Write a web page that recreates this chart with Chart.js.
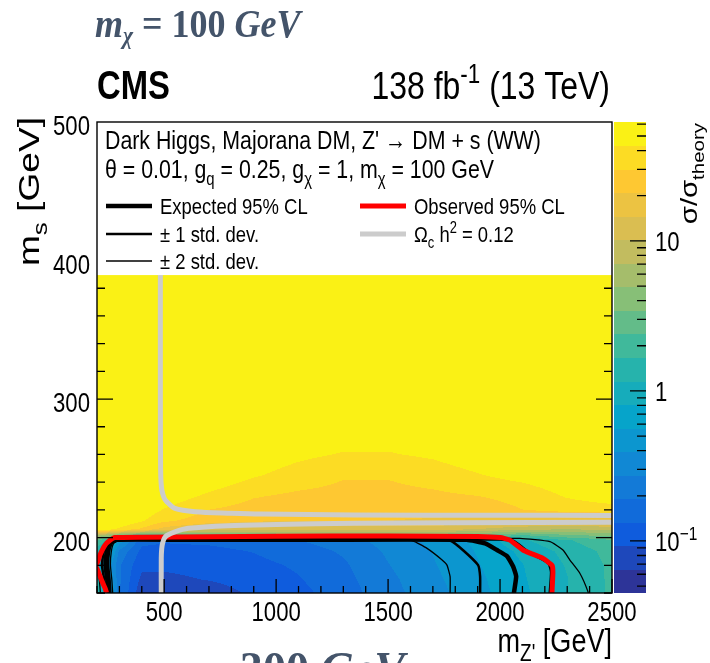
<!DOCTYPE html>
<html>
<head>
<meta charset="utf-8">
<script src="https://cdn.jsdelivr.net/npm/chart.js@4.4.1/dist/chart.umd.min.js"></script>
<style>
html, body { margin: 0; padding: 0; background: #fff; overflow: hidden; width: 710px; height: 663px; }
#wrap { position: relative; width: 710px; height: 663px; overflow: hidden; }
canvas { position: absolute; left: 0; top: 0; }
.slide { position: absolute; font-family: "Liberation Serif", serif; font-weight: bold; color: #44546A; white-space: nowrap; transform-origin: 0 0; }
.slide i { font-style: italic; }
.slide sub { font-size: 0.6em; vertical-align: -0.3em; }
</style>
</head>
<body>
<div id="wrap">
  <canvas id="c" width="710" height="663"></canvas>
  <div class="slide" style="left:95px;top:3px;font-size:36px;line-height:36px;transform:scale(1,1.12)"><i>m<sub>χ</sub></i> = 100 <i>GeV</i></div>
  <div class="slide" style="left:240px;top:646px;font-size:46px;line-height:46px">300 <i>GeV</i></div>
</div>
<script>
// grid of sigma/sigma_theory (rows = m_s, columns = m_Z')
const mzpGrid = [200, 250, 300, 400, 500, 700, 900, 1100, 1300, 1500, 1700, 1900, 2100, 2300, 2500];
const msGrid = [160, 170, 180, 190, 198, 202, 206, 212, 220, 230, 245, 260, 280, 320, 390];
const sigmaGrid = [
  [1.6, 0.8, 0.2, 0.07, 0.07, 0.075, 0.1, 0.12, 0.16, 0.24, 0.34, 0.5, 0.75, 1.15, 1.8],
  [1.2, 0.7, 0.2, 0.085, 0.085, 0.095, 0.11, 0.13, 0.17, 0.25, 0.36, 0.52, 0.78, 1.15, 1.8],
  [0.9, 0.5, 0.2, 0.1, 0.1, 0.105, 0.12, 0.14, 0.18, 0.27, 0.38, 0.55, 0.8, 1.2, 1.8],
  [1.3, 0.85, 0.25, 0.12, 0.115, 0.12, 0.135, 0.16, 0.2, 0.29, 0.4, 0.58, 0.88, 1.3, 1.9],
  [2.5, 1.5, 0.5, 0.15, 0.14, 0.145, 0.16, 0.19, 0.23, 0.32, 0.43, 0.62, 1.1, 1.6, 2.3],
  [8, 6, 4, 2.5, 2.5, 3, 3.5, 4, 4, 4, 4, 3.5, 2.5, 3.5, 4],
  [60, 50, 40, 28, 18, 13, 12, 12, 12, 12, 12, 10, 8, 7, 8],
  [80, 70, 60, 45, 32, 25, 22, 21, 21, 21, 20, 18, 17, 17, 18],
  [90, 80, 70, 55, 42, 30, 26, 24, 23, 23, 24, 26, 30, 34, 36],
  [95, 90, 80, 70, 55, 40, 31, 28, 27, 27, 28, 30, 33, 45, 55],
  [100, 95, 90, 85, 80, 60, 45, 37, 31, 31, 35, 42, 50, 60, 70],
  [100, 100, 100, 95, 90, 75, 55, 47, 42, 42, 46, 55, 65, 75, 85],
  [100, 100, 100, 100, 100, 95, 70, 60, 55, 55, 58, 68, 80, 90, 100],
  [100, 100, 100, 100, 100, 100, 100, 100, 100, 100, 100, 100, 100, 100, 100],
  [100, 100, 100, 100, 100, 100, 100, 100, 100, 100, 100, 100, 100, 100, 100]
];

// contours [m_Z', m_s]
const observed = [[243,160],[236,163.5],[221,169],[203,176.5],[194,179.5],[203,182.5],[213,187.4],[236,194.6],[258,198],[280,200],[400,200.3],[700,200.6],[1000,200.9],[1500,201.2],[1900,200.8],[2000,200],[2044,198.2],[2103,191],[2134,188.8],[2192,185],[2232,180],[2236,175],[2232,160.6],[2231,157]];
const expected = [[250,157],[250,160],[246,170],[238,180],[244,190],[258,196],[290,198.4],[600,198.4],[1200,198.5],[1850,198.4],[1933,195.8],[1986,191],[2031,186.6],[2058,179.3],[2072,172],[2062,160],[2062,157]];
const plus1 = [[238,157],[238,160],[232,170],[222,180],[230,190],[248,196],[285,198.5],[1000,198.6],[2000,198.6],[2060,197.5],[2100,193],[2130,189],[2180,185],[2218,181],[2228,175],[2222,160],[2222,157]];
const minus1 = [[260,157],[260,160],[256,170],[250,180],[254,190],[266,196],[295,198.3],[1000,198.3],[1720,198.3],[1777,197.9],[1835,190.9],[1902,180.1],[1911,171.8],[1911,160],[1911,157]];
const plus2 = [[215,157],[215,160],[210,170],[200,178],[210,188],[232,195],[280,198.6],[1000,198.8],[1900,199.2],[2089,199.4],[2223,197],[2281,191],[2312,183.8],[2357,174.1],[2393,160.8],[2395,157]];
const minus2 = [[270,157],[270,160],[266,170],[260,180],[264,190],[275,196],[300,198.2],[1000,198.2],[1560,198.3],[1611,197.6],[1674,192.2],[1740,184],[1763,180.1],[1777,171.8],[1777,160],[1777,157]];
const relicUpper = [[483,390],[483,300],[484,250],[486,240],[490,234],[500,228.5],[511,226],[548,221.1],[638,218.7],[800,217.6],[935,217],[1352,216.3],[2000,216.1],[2510,216.0]];
const relicLower = [[487,157],[487,185],[489,192],[493,196],[501,199.6],[512,201.5],[548,204.2],[608,206.7],[786,208.6],[1000,209.4],[1352,210.3],[1800,210.7],[2510,211]];

const xTickLabels = [500, 1000, 1500, 2000, 2500];
const yTickLabels = [200, 300, 400, 500];
const zMin = 0.045, zMax = 62, nLevels = 20;
const legendFloor = 389.5;

// ROOT kBird palette
const birdStops = [[53,42,135],[15,92,221],[20,129,214],[6,164,202],[46,183,164],[135,191,119],[209,187,89],[254,200,50],[249,251,14]];
function bird(t) {
  const f = t * (birdStops.length - 1), i = Math.min(birdStops.length - 2, Math.floor(f)), u = f - i;
  return birdStops[i].map((c, k) => Math.round(c + (birdStops[i + 1][k] - c) * u));
}
const bandColors = [];
for (let k = 0; k < nLevels; k++) bandColors.push(bird((k + 0.5) / nLevels));
const l0 = Math.log10(zMin), l1 = Math.log10(zMax);

// text helpers (narrow Helvetica look)
const probe = document.createElement('canvas').getContext('2d');
probe.font = '40px "Liberation Sans Narrow", monospace';
const wa = probe.measureText('abcdefgh').width;
probe.font = '40px monospace';
const wb = probe.measureText('abcdefgh').width;
const NARROW = Math.abs(wa - wb) > 1;
const FAM = NARROW ? '"Liberation Sans Narrow"' : '"Liberation Sans"';
const SQ = NARROW ? 1 : 0.82;

function rich(ctx, parts, x, y, size, o = {}) {
  if (typeof parts === 'string') parts = [{ t: parts }];
  const fam = o.fam || FAM, sq = o.sq || SQ;
  const fonts = parts.map(p => `${o.bold ? 'bold ' : ''}${size * (p.s || 1)}px ${fam}`);
  const ws = parts.map((p, i) => { ctx.font = fonts[i]; return ctx.measureText(p.t).width * sq; });
  const W = ws.reduce((a, b) => a + b, 0);
  let cx = o.align === 'right' ? -W : o.align === 'center' ? -W / 2 : 0;
  ctx.save();
  ctx.translate(x, y);
  if (o.rot) ctx.rotate(o.rot);
  ctx.fillStyle = o.color || '#000';
  ctx.textAlign = 'left';
  ctx.textBaseline = 'alphabetic';
  parts.forEach((p, i) => {
    ctx.font = fonts[i];
    ctx.save();
    ctx.translate(cx, (p.dy || 0) * size);
    ctx.scale(sq, 1);
    ctx.fillText(p.t, 0, 0);
    ctx.restore();
    cx += ws[i];
  });
  ctx.restore();
}
const sub = t => ({ t, s: 0.7, dy: 0.28 });
const sup = t => ({ t, s: 0.7, dy: -0.42 });
const ROT = { rot: -Math.PI / 2, align: 'right', fam: '"Liberation Sans"' };

function locate(arr, v) {
  let i = 0;
  while (i < arr.length - 2 && v > arr[i + 1]) i++;
  const t = Math.min(1, Math.max(0, (v - arr[i]) / (arr[i + 1] - arr[i])));
  return [i, t];
}
const logGrid = sigmaGrid.map(r => r.map(v => Math.log10(v)));

const heatPlugin = {
  id: 'heat',
  beforeDatasetsDraw(chart) {
    const { ctx, chartArea: a, scales: { x, y } } = chart;
    const W = Math.round(a.right - a.left), H = Math.round(a.bottom - a.top);
    const img = ctx.createImageData(W, H);
    const cols = [];
    for (let c = 0; c < W; c++) cols.push(locate(mzpGrid, x.getValueForPixel(a.left + c + 0.5)));
    for (let r = 0; r < H; r++) {
      const yv = y.getValueForPixel(a.top + r + 0.5);
      const [j, u] = locate(msGrid, yv);
      for (let c = 0; c < W; c++) {
        const p = (r * W + c) * 4;
        let col;
        if (yv > legendFloor) col = [255, 255, 255];
        else {
          const [i, t] = cols[c];
          const v = (1 - t) * (1 - u) * logGrid[j][i] + t * (1 - u) * logGrid[j][i + 1] +
                    (1 - t) * u * logGrid[j + 1][i] + t * u * logGrid[j + 1][i + 1];
          const k = Math.max(0, Math.min(nLevels - 1, Math.floor((v - l0) / (l1 - l0) * nLevels)));
          col = bandColors[k];
        }
        img.data[p] = col[0]; img.data[p + 1] = col[1]; img.data[p + 2] = col[2]; img.data[p + 3] = 255;
      }
    }
    ctx.putImageData(img, Math.round(a.left), Math.round(a.top));
  },
  afterDatasetsDraw(chart) {
    const { ctx, chartArea: a, scales: { x, y, z } } = chart;
    const ds = chart.data.datasets;
    const yLeg = y.getPixelForValue(legendFloor);

    // legend box covers the upper part of the frame
    ctx.fillStyle = '#fff';
    ctx.fillRect(a.left, a.top, a.right - a.left, yLeg - a.top);

    // inside ticks
    ctx.strokeStyle = '#000';
    ctx.lineWidth = 1.3;
    ctx.beginPath();
    for (let v = 160; v < legendFloor; v += 20) {
      const py = y.getPixelForValue(v), len = v % 100 === 0 ? 16 : 8;
      ctx.moveTo(a.left, py); ctx.lineTo(a.left + len, py);
      ctx.moveTo(a.right, py); ctx.lineTo(a.right - len, py);
    }
    for (let v = 200; v <= 2500; v += 100) {
      const px = x.getPixelForValue(v), len = v % 500 === 0 ? 14 : 7;
      ctx.moveTo(px, a.bottom); ctx.lineTo(px, a.bottom - len);
    }
    ctx.stroke();
    ctx.lineWidth = 1.4;
    ctx.strokeRect(a.left, a.top, a.right - a.left, a.bottom - a.top);

    // tick labels
    yTickLabels.forEach(v => rich(ctx, String(v), a.left - 7, y.getPixelForValue(v) + 13, 27, { align: 'right' }));
    xTickLabels.forEach(v => rich(ctx, String(v), x.getPixelForValue(v), a.bottom + 28, 27, { align: 'center' }));

    // axis titles
    rich(ctx, [{ t: 'm' }, sub("Z'"), { t: ' [GeV]' }], a.right, 652, 33, { align: 'right' });
    rich(ctx, [{ t: 'm' }, sub('s'), { t: ' [GeV]' }], 39, 117, 29, Object.assign({ sq: 1.28 }, ROT));

    // colour bar
    const bx = 614, bw = 32;
    for (let k = 0; k < nLevels; k++) {
      const lo = Math.pow(10, l0 + k * (l1 - l0) / nLevels), hi = Math.pow(10, l0 + (k + 1) * (l1 - l0) / nLevels);
      const c = bandColors[k];
      const yt = z.getPixelForValue(hi), yb = z.getPixelForValue(lo);
      ctx.fillStyle = `rgb(${c[0]},${c[1]},${c[2]})`;
      ctx.fillRect(bx, Math.floor(yt), bw, Math.ceil(yb) - Math.floor(yt));
    }
    ctx.beginPath();
    ctx.lineWidth = 1.3;
    [0.01, 0.1, 1, 10].forEach(dec => {
      for (let m = 1; m < 10; m++) {
        const v = dec * m;
        if (v < zMin || v > zMax) continue;
        const py = z.getPixelForValue(v), len = m === 1 ? 16 : 9;
        ctx.moveTo(bx + bw, py); ctx.lineTo(bx + bw - len, py);
      }
    });
    ctx.stroke();
    rich(ctx, '10', 655, z.getPixelForValue(10) + 10, 27);
    rich(ctx, '1', 655, z.getPixelForValue(1) + 10, 27);
    rich(ctx, [{ t: '10' }, sup('\u22121')], 655, z.getPixelForValue(0.1) + 10, 27);
    rich(ctx, [{ t: '\u03c3/\u03c3' }, sub('theory')], 697, 123, 24, Object.assign({ sq: 1.22 }, ROT));

    // header texts
    rich(ctx, 'CMS', a.left, 99, 40, { bold: true });
    rich(ctx, [{ t: '138 fb' }, sup('-1'), { t: ' (13 TeV)' }], 610, 99, 39, { align: 'right' });

    // legend
    rich(ctx, "Dark Higgs, Majorana DM, Z' \u2192 DM + s (WW)", 105, 149, 26);
    rich(ctx, [{ t: '\u03b8 = 0.01, g' }, sub('q'), { t: ' = 0.25, g' }, sub('\u03c7'), { t: ' = 1, m' }, sub('\u03c7'), { t: ' = 100 GeV' }], 105, 178, 26);
    const entry = (d, lx, cy, label) => {
      ctx.save();
      ctx.strokeStyle = d.borderColor;
      ctx.lineWidth = d.borderWidth;
      ctx.beginPath(); ctx.moveTo(lx, cy); ctx.lineTo(lx + 46, cy); ctx.stroke();
      ctx.restore();
      rich(ctx, label, lx + 54, cy + 8, 22.5);
    };
    entry(ds[3], 106, 206, ds[3].label);
    entry(ds[4], 106, 234, ds[4].label);
    entry(ds[6], 106, 261, ds[6].label);
    entry(ds[2], 360, 206, ds[2].label);
    entry(ds[0], 360, 234, [{ t: '\u03a9' }, sub('c'), { t: ' h' }, sup('2'), { t: ' = 0.12' }]);
  }
};

const pts = arr => arr.map(([x, y]) => ({ x, y }));
const line = (label, data, color, width, tension) => ({
  label, data: pts(data), showLine: true, borderColor: color, borderWidth: width,
  pointRadius: 0, tension, fill: false, borderCapStyle: 'butt', borderJoinStyle: 'round'
});

new Chart(document.getElementById('c'), {
  type: 'scatter',
  data: {
    datasets: [
      line('\u03a9c h2 = 0.12', relicUpper, '#cccccc', 5, 0.3),
      line('\u03a9c h2 = 0.12', relicLower, '#cccccc', 5, 0.3),
      line('Observed 95% CL', observed, '#ff0000', 5, 0.15),
      line('Expected 95% CL', expected, '#000000', 4.5, 0.15),
      line('\u00b1 1 std. dev.', plus1, '#000000', 2.5, 0.15),
      line('\u00b1 1 std. dev.', minus1, '#000000', 2.5, 0.15),
      line('\u00b1 2 std. dev.', plus2, '#000000', 1.3, 0.15),
      line('\u00b1 2 std. dev.', minus2, '#000000', 1.3, 0.15)
    ]
  },
  options: {
    responsive: false,
    animation: false,
    devicePixelRatio: 1,
    layout: { padding: { top: 122, left: 0, right: 0, bottom: 0 } },
    plugins: { legend: { display: false }, tooltip: { enabled: false } },
    scales: {
      x: { type: 'linear', min: 200, max: 2500, ticks: { display: false }, grid: { display: false }, border: { display: false }, afterFit(s) { s.height = 70; } },
      y: { type: 'linear', position: 'left', min: 160, max: 500, ticks: { display: false }, grid: { display: false }, border: { display: false }, afterFit(s) { s.width = 97; } },
      z: { type: 'logarithmic', axis: 'y', position: 'right', min: zMin, max: zMax, ticks: { display: false }, grid: { display: false }, border: { display: false }, afterFit(s) { s.width = 98; } }
    }
  },
  plugins: [heatPlugin]
});
</script>
</body>
</html>
